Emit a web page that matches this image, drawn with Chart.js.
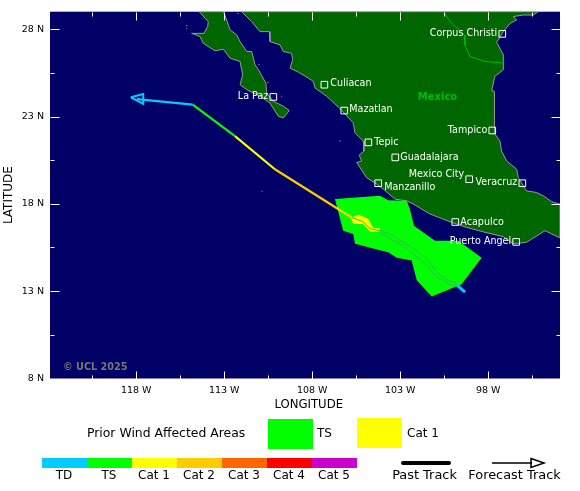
<!DOCTYPE html>
<html>
<head>
<meta charset="utf-8">
<title>Storm track</title>
<script src="https://cdn.jsdelivr.net/npm/chart.js@4"></script>
<style>
  html, body { margin: 0; padding: 0; background: #fff; }
  canvas { display: block; }
</style>
</head>
<body>
<canvas id="myChart" width="580" height="491"></canvas>
<script>
// all outlines are [longitude, latitude]
const mainland = [[-112.01,29],[-111.44,28.43],[-110.97,27.86],[-110.44,27.86],[-110.40,27.29],[-109.83,27.10],[-109.64,26.72],[-109.17,26.62],[-109.11,26.25],[-109.26,25.77],[-108.79,25.54],[-108.22,25.20],[-107.94,25.01],[-107.84,24.63],[-107.18,24.16],[-106.46,23.49],[-105.67,22.64],[-105.57,22.07],[-105.10,21.59],[-105.06,21.02],[-105.33,20.79],[-105.19,20.45],[-105.47,20.36],[-104.91,19.50],[-104.34,19.13],[-103.96,18.84],[-103.30,18.27],[-102.63,18.17],[-102.26,17.99],[-101.31,17.42],[-100.08,16.94],[-99.22,16.65],[-98.18,16.37],[-97.14,16.12],[-96.58,15.71],[-95.82,15.80],[-94.77,16.46],[-93.92,16.05],[-93.92,17.99],[-94.39,18.12],[-94.87,18.46],[-95.25,18.65],[-95.82,18.74],[-96.29,19.50],[-96.38,19.98],[-96.95,20.45],[-97.24,21.02],[-97.33,21.59],[-97.67,22.07],[-97.67,23.87],[-97.62,24.44],[-97.80,24.48],[-97.62,25.30],[-97.14,25.68],[-97.14,26.53],[-97.52,27.25],[-97.14,27.86],[-96.76,28.33],[-96.38,28.53],[-96.58,28.72],[-96.01,28.81],[-95.44,28.81],[-95.16,29],[-112.01,29]];
const baja = [[-114.42,29],[-113.91,28.43],[-113.94,28.15],[-114.15,27.76],[-114.85,27.76],[-114.38,27.58],[-114.19,27.19],[-113.52,26.76],[-113.05,26.85],[-112.67,26.34],[-112.10,26.15],[-111.95,25.39],[-112.10,24.82],[-111.72,24.54],[-110.97,24.16],[-110.40,23.77],[-109.93,23.02],[-109.64,22.92],[-109.30,23.34],[-109.64,23.59],[-110.21,23.87],[-110.59,24.34],[-110.63,24.91],[-111.06,25.68],[-111.25,25.96],[-111.44,26.72],[-111.72,26.72],[-112.10,27.29],[-112.29,27.67],[-112.67,27.96],[-112.96,28.81],[-113.05,29],[-114.42,29]];
const islets = [[-115.13,28.20],[-115.13,28.05],[-106.42,21.59],[-110.85,18.72],[-111.02,25.98],[-110.51,24.95],[-109.74,24.16],[-112.22,28.89]];
const usBorder = [[-100.46,28.9],[-100.17,28.43],[-99.36,27.67],[-99.32,27.10],[-99.04,26.44],[-98.18,26.15],[-97.14,26.06]];

const windTS = [[-106.71,18.27],[-104.15,18.46],[-103.68,18.21],[-102.63,18.17],[-102.45,17.70],[-102.22,16.75],[-101.02,15.89],[-99.70,15.89],[-98.37,14.91],[-99.51,13.39],[-101.21,12.70],[-102.06,13.62],[-102.35,14.75],[-103.20,14.91],[-103.68,15.23],[-104.43,15.42],[-105.57,15.71],[-105.67,16.28],[-106.24,16.46],[-106.71,18.27]];
const windCat1 = [[-105.81,17.22],[-105.33,17.38],[-104.81,17.13],[-104.53,16.62],[-104.15,16.60],[-104.15,16.41],[-104.72,16.41],[-105.10,16.85],[-105.67,16.85],[-105.81,17.22]];

const pastEdgeA = [[-105.76,17.22],[-105.12,16.98],[-104.72,16.58],[-104.15,16.46],[-103.58,16.28],[-102.83,15.80],[-102.06,15.32],[-101.41,14.75],[-100.93,14.09],[-100.27,13.62],[-99.76,13.46]];
const pastEdgeB = [[-104.15,16.37],[-103.39,15.89],[-102.83,15.61],[-102.26,15.14],[-101.59,14.57],[-101.02,13.90],[-100.27,13.43],[-99.89,13.33]];
const pastTD = [[-99.32,12.95],[-99.76,13.33]];

const forecastCat2 = [[-105.76,17.22],[-110.12,19.98]];
const forecastCat1 = [[-110.12,19.98],[-112.39,21.88]];
const forecastTS = [[-112.39,21.88],[-114.79,23.68]];
const forecastTD = [[-114.79,23.68],[-117.97,24.00]];
const arrowHead = [[-118.31,24.10],[-117.60,24.29],[-117.60,23.72],[-118.31,24.10]];

const cityNames = ['Corpus Christi','La Paz','Culiacan','Mazatlan','Tepic','Guadalajara','Manzanillo','Mexico City','Veracruz','Tampico','Acapulco','Puerto Angel'];
const cityLon = [-97.20,-110.21,-107.31,-106.18,-104.81,-103.28,-104.25,-99.08,-96.06,-97.77,-99.87,-96.41];
const cityLat = [27.73,24.12,24.82,23.34,21.52,20.66,19.18,19.41,19.18,22.20,16.96,15.82];

const lonTicks = [-118,-113,-108,-103,-98];
const lonMinor = [-120.5,-115.5,-110.5,-105.5,-100.5,-95.5];
const latTicks = [8,13,18,23,28];
const latMinor = [10.5,15.5,20.5,25.5];

const scaleNames = ['TD','TS','Cat 1','Cat 2','Cat 3','Cat 4','Cat 5'];
const scaleColors = ['#00ccff','#00ff00','#ffff00','#ffcc00','#ff6600','#ff0000','#cc00cc'];

// where each city label sits relative to its box
const labelPlace = {
  'Corpus Christi': [-5, 0, 'right'], 'La Paz': [-5, 0, 'right'], 'Culiacan': [6, -1, 'left'],
  'Mazatlan': [5, -1, 'left'], 'Tepic': [6, 0, 'left'], 'Guadalajara': [5, 0, 'left'],
  'Manzanillo': [6, 4, 'left'], 'Mexico City': [-5, -5, 'right'], 'Veracruz': [-5, -1, 'right'],
  'Tampico': [-5, 0, 'right'], 'Acapulco': [5, 1, 'left'], 'Puerto Angel': [-5, 0, 'right']
};

const FONT = '"DejaVu Sans", sans-serif';
const toPoints = pts => pts.map(p => ({x: p[0], y: p[1]}));

function area(pts, fillColor, edge, order) {
  return {data: toPoints(pts), showLine: true, fill: 'shape', backgroundColor: fillColor,
    borderColor: edge, borderWidth: edge === 'transparent' ? 0 : 1, pointRadius: 0, order: order};
}
function path(pts, color, width, order) {
  return {data: toPoints(pts), showLine: true, fill: false, borderColor: color,
    borderWidth: width, pointRadius: 0, order: order};
}

const mapPlugin = {
  id: 'mapExtras',
  beforeDatasetsDraw(chart) {
    const {ctx, chartArea: a} = chart;
    ctx.save();
    ctx.fillStyle = '#000066';
    ctx.fillRect(a.left, a.top, a.right - a.left, a.bottom - a.top);
    ctx.restore();
  },
  afterDatasetsDraw(chart) {
    const {ctx, chartArea: a, scales: {x, y}} = chart;
    ctx.save();

    // ticks point into the map on all four sides
    ctx.strokeStyle = '#ffffff';
    ctx.lineWidth = 1;
    const tick = (x0, y0, x1, y1) => {
      ctx.beginPath();
      ctx.moveTo(Math.round(x0) + 0.5, Math.round(y0) + 0.5);
      ctx.lineTo(Math.round(x1) + 0.5, Math.round(y1) + 0.5);
      ctx.stroke();
    };
    [[lonTicks, 8], [lonMinor, 4]].forEach(([vals, len]) => vals.forEach(v => {
      const px = x.getPixelForValue(v);
      tick(px, a.bottom, px, a.bottom - len);
      tick(px, a.top, px, a.top + len);
    }));
    [[latTicks, 9], [latMinor, 4]].forEach(([vals, len]) => vals.forEach(v => {
      const py = y.getPixelForValue(v);
      tick(a.left, py, a.left + len, py);
      tick(a.right, py, a.right - len, py);
    }));

    ctx.textBaseline = 'middle';

    // city names
    ctx.fillStyle = '#ffffff';
    ctx.font = '9.6px ' + FONT;
    cityNames.forEach((name, i) => {
      const p = labelPlace[name];
      ctx.textAlign = p[2];
      ctx.fillText(name, x.getPixelForValue(cityLon[i]) + p[0], y.getPixelForValue(cityLat[i]) + p[1]);
    });

    ctx.textAlign = 'left';
    ctx.fillStyle = '#00bb00';
    ctx.font = 'bold 10px ' + FONT;
    ctx.fillText('Mexico', x.getPixelForValue(-102.0), y.getPixelForValue(24.07));
    ctx.fillStyle = '#777777';
    ctx.font = 'bold 9.7px ' + FONT;
    ctx.fillText('© UCL 2025', a.left + 13, a.bottom - 11);

    // key under the map
    ctx.fillStyle = '#000000';
    ctx.font = '12.4px ' + FONT;
    ctx.fillText('Prior Wind Affected Areas', 87, 434);
    ctx.fillStyle = '#00ff00';
    ctx.fillRect(268, 419, 45, 30);
    ctx.fillStyle = '#ffff00';
    ctx.fillRect(357, 418, 45, 30);
    ctx.fillStyle = '#000000';
    ctx.font = '12px ' + FONT;
    ctx.fillText('TS', 317, 434);
    ctx.fillText('Cat 1', 407, 434);

    ctx.textAlign = 'center';
    scaleNames.forEach((name, i) => {
      ctx.fillStyle = scaleColors[i];
      ctx.fillRect(42 + i * 45, 458, 45, 10);
      ctx.fillStyle = '#000000';
      ctx.fillText(name, 64 + i * 45, 476);
    });
    ctx.font = '12.9px ' + FONT;
    ctx.fillText('Past Track', 424.5, 476);
    ctx.fillText('Forecast Track', 514.5, 476);

    ctx.strokeStyle = '#000000';
    ctx.lineCap = 'round';
    ctx.lineWidth = 4;
    ctx.beginPath();
    ctx.moveTo(403, 463);
    ctx.lineTo(449, 463);
    ctx.stroke();
    ctx.lineCap = 'butt';
    ctx.lineWidth = 1.5;
    ctx.beginPath();
    ctx.moveTo(492, 463);
    ctx.lineTo(532, 463);
    ctx.moveTo(531, 458.5);
    ctx.lineTo(544, 463);
    ctx.lineTo(531, 467.5);
    ctx.closePath();
    ctx.stroke();
    ctx.restore();
  }
};

document.addEventListener('DOMContentLoaded', function() {
  const ctx = document.getElementById('myChart').getContext('2d');
  Chart.defaults.font.family = FONT;

  new Chart(ctx, {
    type: 'scatter',
    data: {
      datasets: [
        area(mainland, '#006600', '#999999', 20),
        area(baja, '#006600', '#999999', 19),
        {data: toPoints(islets), pointStyle: 'rect', pointRadius: 0.8, pointBackgroundColor: '#999999', pointBorderWidth: 0, order: 18},
        path(usBorder, '#00bb00', 1, 17),
        area(windTS, '#00ff00', 'transparent', 16),
        area(windCat1, '#ffff00', 'transparent', 15),
        path(pastEdgeA, '#33bb55', 1, 14),
        path(pastEdgeB, '#33bb55', 1, 13),
        path(pastTD, scaleColors[0], 3, 12),
        path(forecastCat2, scaleColors[3], 2.2, 11),
        path(forecastCat1, scaleColors[2], 2.2, 10),
        path(forecastTS, scaleColors[1], 2.2, 9),
        path(forecastTD, scaleColors[0], 2.2, 8),
        path(arrowHead, scaleColors[0], 2, 7),
        {data: cityLon.map((v, i) => ({x: v, y: cityLat[i]})), pointStyle: 'rect', pointRadius: 4.7,
          pointBackgroundColor: 'transparent', pointBorderColor: '#ffffff', pointBorderWidth: 1, order: 1}
      ]
    },
    options: {
      responsive: false,
      animation: false,
      events: [],
      layout: {padding: {top: 10, right: 20, left: 2, bottom: 79}},
      plugins: {legend: {display: false}, tooltip: {enabled: false}},
      scales: {
        x: {
          type: 'linear',
          min: -122.9,
          max: -93.92,
          afterBuildTicks: scale => { scale.ticks = lonTicks.map(v => ({value: v})); },
          afterFit: scale => { scale.height = 33.5; },
          grid: {display: false, drawTicks: false},
          border: {display: false},
          ticks: {padding: 6, maxRotation: 0, color: '#000000', font: {size: 9.5}, callback: v => (-v) + ' W'},
          // leading spaces: the title sits a little right of the map centre
          title: {display: true, text: '  LONGITUDE', color: '#000000', font: {size: 11.7}, padding: {top: 1, bottom: 0}}
        },
        y: {
          type: 'linear',
          min: 8,
          max: 29,
          afterBuildTicks: scale => { scale.ticks = latTicks.map(v => ({value: v})); },
          afterFit: scale => { scale.width = 48; },
          grid: {display: false, drawTicks: false},
          border: {display: false},
          ticks: {padding: 6, color: '#000000', font: {size: 9.5}, callback: v => v + ' N'},
          title: {display: true, text: 'LATITUDE', color: '#000000', font: {size: 12}, padding: {top: 0, bottom: 4}}
        }
      }
    },
    plugins: [mapPlugin]
  });
});
</script>
</body>
</html>
